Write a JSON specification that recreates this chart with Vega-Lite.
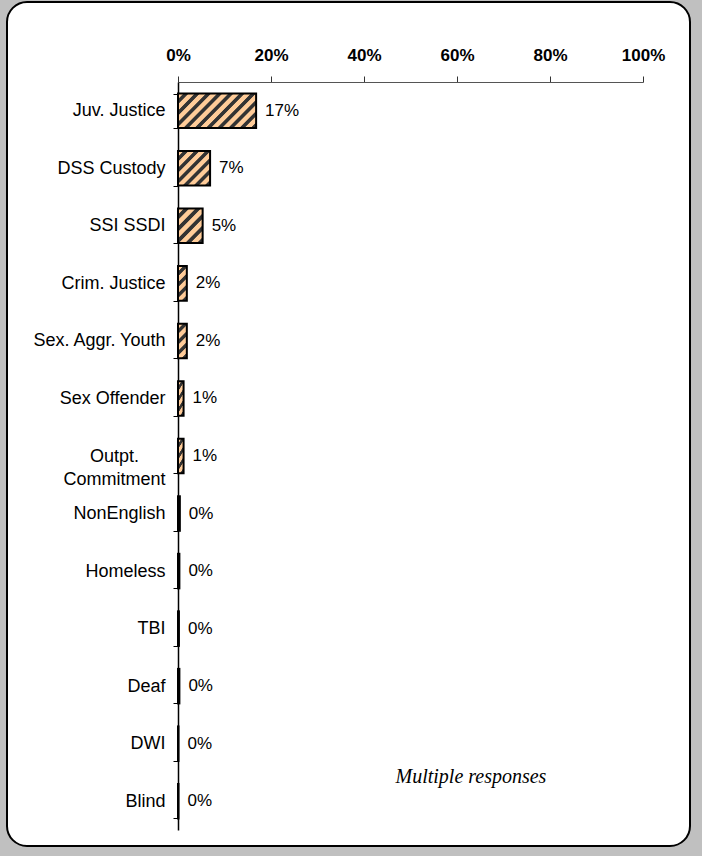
{
  "$schema": "https://vega.github.io/schema/vega-lite/v6.json",
  "width": 683,
  "height": 844,
  "autosize": "none",
  "padding": {"left": 7, "top": 2, "right": 12, "bottom": 10},
  "background": "#c0c0c0",
  "config": {
    "view": {"fill": "white", "stroke": "black", "strokeWidth": 2, "cornerRadius": 20},
    "font": "Liberation Sans"
  },
  "data": {
    "values": [
      {"category": "Juv. Justice", "value": 0.168},
      {"category": "DSS Custody", "value": 0.069},
      {"category": "SSI SSDI", "value": 0.053},
      {"category": "Crim. Justice", "value": 0.019},
      {"category": "Sex. Aggr. Youth", "value": 0.019},
      {"category": "Sex Offender", "value": 0.012},
      {"category": "Outpt. Commitment", "value": 0.012},
      {"category": "NonEnglish", "value": 0.004},
      {"category": "Homeless", "value": 0.003},
      {"category": "TBI", "value": 0.002},
      {"category": "Deaf", "value": 0.003},
      {"category": "DWI", "value": 0.001},
      {"category": "Blind", "value": 0.001}
    ]
  },
  "encoding": {
    "y": {
      "field": "category",
      "type": "nominal",
      "sort": null,
      "scale": {"range": [80, 828], "paddingInner": 0.4, "paddingOuter": 0.2},
      "axis": {
        "title": null,
        "orient": "left",
        "offset": -171,
        "tickBand": "extent",
        "tickSize": 5,
        "tickColor": "black",
        "domainColor": "black",
        "domainWidth": 1.5,
        "labelPadding": {"condition": {"test": "datum.value === 'Outpt. Commitment'", "value": 59}, "value": 8},
        "labelAlign": {"condition": {"test": "datum.value === 'Outpt. Commitment'", "value": "center"}, "value": "right"},
        "labelFontSize": 18,
        "labelColor": "black",
        "labelFont": "Liberation Sans",
        "labelLineHeight": 23,
        "labelExpr": "datum.value === 'Outpt. Commitment' ? ['Outpt.', 'Commitment'] : datum.value"
      }
    }
  },
  "layer": [
    {
      "mark": {"type": "bar", "stroke": "black", "strokeWidth": 2},
      "encoding": {
        "x": {
          "field": "value",
          "type": "quantitative",
          "scale": {"domain": [0, 1], "range": [171, 636]},
          "axis": {
            "title": null,
            "orient": "top",
            "offset": -80,
            "format": ".0%",
            "values": [0, 0.2, 0.4, 0.6, 0.8, 1],
            "grid": false,
            "tickSize": 6,
            "tickColor": "#333333",
            "domainColor": "#555555",
            "labelFontSize": 17,
            "labelFontWeight": "bold",
            "labelColor": "black",
            "labelPadding": 12,
            "labelFlush": false,
            "labelFont": "Liberation Sans"
          }
        },
        "fill": {
          "condition": [
            {
              "test": "datum.category === 'Juv. Justice'",
              "value": {
                "gradient": "linear", "x1": 0, "y1": 0, "x2": 1.207, "y2": 0.526,
                "stops": [
                  {"offset": 0, "color": "#FFCC99"}, {"offset": 0.045, "color": "#FFCC99"}, {"offset": 0.055, "color": "#333333"}, {"offset": 0.09, "color": "#333333"},
                  {"offset": 0.1, "color": "#FFCC99"}, {"offset": 0.145, "color": "#FFCC99"}, {"offset": 0.155, "color": "#333333"}, {"offset": 0.19, "color": "#333333"},
                  {"offset": 0.2, "color": "#FFCC99"}, {"offset": 0.245, "color": "#FFCC99"}, {"offset": 0.255, "color": "#333333"}, {"offset": 0.29, "color": "#333333"},
                  {"offset": 0.3, "color": "#FFCC99"}, {"offset": 0.345, "color": "#FFCC99"}, {"offset": 0.355, "color": "#333333"}, {"offset": 0.39, "color": "#333333"},
                  {"offset": 0.4, "color": "#FFCC99"}, {"offset": 0.445, "color": "#FFCC99"}, {"offset": 0.455, "color": "#333333"}, {"offset": 0.49, "color": "#333333"},
                  {"offset": 0.5, "color": "#FFCC99"}, {"offset": 0.545, "color": "#FFCC99"}, {"offset": 0.555, "color": "#333333"}, {"offset": 0.59, "color": "#333333"},
                  {"offset": 0.6, "color": "#FFCC99"}, {"offset": 0.645, "color": "#FFCC99"}, {"offset": 0.655, "color": "#333333"}, {"offset": 0.69, "color": "#333333"},
                  {"offset": 0.7, "color": "#FFCC99"}, {"offset": 0.745, "color": "#FFCC99"}, {"offset": 0.755, "color": "#333333"}, {"offset": 0.79, "color": "#333333"},
                  {"offset": 0.8, "color": "#FFCC99"}, {"offset": 0.845, "color": "#FFCC99"}, {"offset": 0.855, "color": "#333333"}, {"offset": 0.89, "color": "#333333"},
                  {"offset": 0.9, "color": "#FFCC99"}, {"offset": 0.945, "color": "#FFCC99"}, {"offset": 0.955, "color": "#333333"}, {"offset": 0.99, "color": "#333333"},
                  {"offset": 1, "color": "#FFCC99"}
                ]
              }
            },
            {
              "test": "datum.category === 'DSS Custody'",
              "value": {
                "gradient": "linear", "x1": 0, "y1": 0, "x2": 0.969, "y2": 1.029,
                "stops": [
                  {"offset": 0, "color": "#FFCC99"}, {"offset": 0.075, "color": "#FFCC99"}, {"offset": 0.092, "color": "#333333"}, {"offset": 0.15, "color": "#333333"},
                  {"offset": 0.167, "color": "#FFCC99"}, {"offset": 0.242, "color": "#FFCC99"}, {"offset": 0.258, "color": "#333333"}, {"offset": 0.317, "color": "#333333"},
                  {"offset": 0.333, "color": "#FFCC99"}, {"offset": 0.408, "color": "#FFCC99"}, {"offset": 0.425, "color": "#333333"}, {"offset": 0.483, "color": "#333333"},
                  {"offset": 0.5, "color": "#FFCC99"}, {"offset": 0.575, "color": "#FFCC99"}, {"offset": 0.592, "color": "#333333"}, {"offset": 0.65, "color": "#333333"},
                  {"offset": 0.667, "color": "#FFCC99"}, {"offset": 0.742, "color": "#FFCC99"}, {"offset": 0.758, "color": "#333333"}, {"offset": 0.817, "color": "#333333"},
                  {"offset": 0.833, "color": "#FFCC99"}, {"offset": 0.908, "color": "#FFCC99"}, {"offset": 0.925, "color": "#333333"}, {"offset": 0.983, "color": "#333333"},
                  {"offset": 1, "color": "#FFCC99"}
                ]
              }
            },
            {
              "test": "datum.category === 'SSI SSDI'",
              "value": {
                "gradient": "linear", "x1": 0, "y1": 0, "x2": 0.819, "y2": 1.131,
                "stops": [
                  {"offset": 0, "color": "#FFCC99"}, {"offset": 0.09, "color": "#FFCC99"}, {"offset": 0.11, "color": "#333333"}, {"offset": 0.18, "color": "#333333"},
                  {"offset": 0.2, "color": "#FFCC99"}, {"offset": 0.29, "color": "#FFCC99"}, {"offset": 0.31, "color": "#333333"}, {"offset": 0.38, "color": "#333333"},
                  {"offset": 0.4, "color": "#FFCC99"}, {"offset": 0.49, "color": "#FFCC99"}, {"offset": 0.51, "color": "#333333"}, {"offset": 0.58, "color": "#333333"},
                  {"offset": 0.6, "color": "#FFCC99"}, {"offset": 0.69, "color": "#FFCC99"}, {"offset": 0.71, "color": "#333333"}, {"offset": 0.78, "color": "#333333"},
                  {"offset": 0.8, "color": "#FFCC99"}, {"offset": 0.89, "color": "#FFCC99"}, {"offset": 0.91, "color": "#333333"}, {"offset": 0.98, "color": "#333333"},
                  {"offset": 1, "color": "#FFCC99"}
                ]
              }
            }
          ],
          "value": {
            "gradient": "linear", "x1": 0, "y1": 0, "x2": 0.306, "y2": 1.18,
            "stops": [
              {"offset": 0, "color": "#FFCC99"}, {"offset": 0.1125, "color": "#FFCC99"}, {"offset": 0.1375, "color": "#333333"}, {"offset": 0.225, "color": "#333333"},
              {"offset": 0.25, "color": "#FFCC99"}, {"offset": 0.3625, "color": "#FFCC99"}, {"offset": 0.3875, "color": "#333333"}, {"offset": 0.475, "color": "#333333"},
              {"offset": 0.5, "color": "#FFCC99"}, {"offset": 0.6125, "color": "#FFCC99"}, {"offset": 0.6375, "color": "#333333"}, {"offset": 0.725, "color": "#333333"},
              {"offset": 0.75, "color": "#FFCC99"}, {"offset": 0.8625, "color": "#FFCC99"}, {"offset": 0.8875, "color": "#333333"}, {"offset": 0.975, "color": "#333333"},
              {"offset": 1, "color": "#FFCC99"}
            ]
          }
        }
      }
    },
    {
      "mark": {"type": "text", "align": "left", "baseline": "middle", "dx": 9, "fontSize": 17, "color": "black", "font": "Liberation Sans"},
      "encoding": {
        "x": {"field": "value", "type": "quantitative"},
        "text": {"field": "value", "type": "quantitative", "format": ".0%"}
      }
    },
    {
      "data": {"values": [{"note": "Multiple responses"}]},
      "mark": {"type": "text", "align": "center", "baseline": "middle", "dy": 33, "fontSize": 20, "fontStyle": "italic", "font": "Liberation Serif", "color": "black"},
      "encoding": {
        "x": {"datum": 0.63, "type": "quantitative"},
        "y": {"datum": "DWI", "type": "nominal"},
        "text": {"field": "note"}
      }
    }
  ]
}
